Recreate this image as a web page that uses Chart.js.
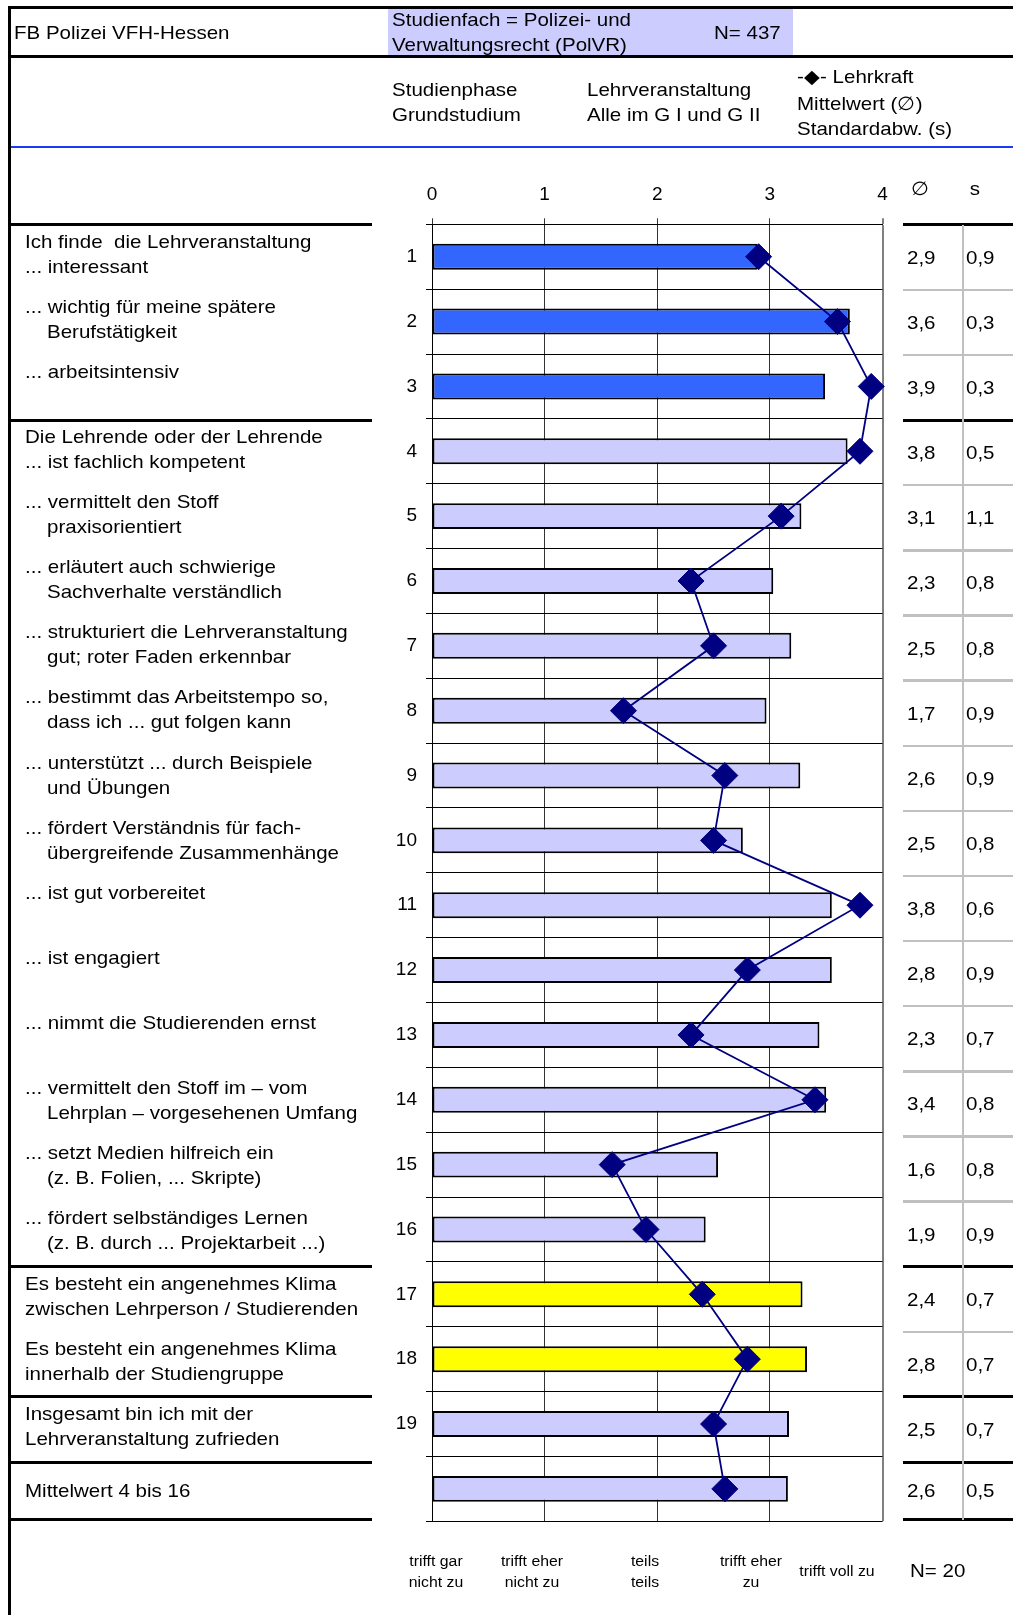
<!DOCTYPE html>
<html lang="de">
<head>
<meta charset="utf-8">
<title>Lehrveranstaltungsbewertung – FB Polizei VFH-Hessen</title>
<script src="https://cdn.jsdelivr.net/npm/chart.js@4.4.1/dist/chart.umd.min.js"></script>
<style>
  html, body { margin: 0; padding: 0; background: #fff; }
  body {
    width: 1013px; height: 1615px; position: relative; overflow: hidden;
    font-family: "Liberation Sans", Arial, Helvetica, sans-serif; color: #000;
  }
  #chart { position: absolute; left: 0; top: 0; }
  .txt { position: absolute; white-space: pre; }
  .rule { position: absolute; }
</style>
</head>
<body>
<canvas id="chart" width="1013" height="1615"></canvas>
<div id="sheet"></div>
<script>
// row numbers on the category axis (last row = average of 4..16, unnumbered)
const rowNumbers = ['1', '2', '3', '4', '5', '6', '7', '8', '9', '10',
                    '11', '12', '13', '14', '15', '16', '17', '18', '19', ''];

// bars: all courses in G I / G II
const courseMeans = [2.89, 3.71, 3.49, 3.69, 3.28, 3.03, 3.19, 2.97, 3.27, 2.76,
                     3.55, 3.55, 3.44, 3.50, 2.54, 2.43, 3.29, 3.33, 3.17, 3.16];

// diamonds: this teacher (mean and standard deviation)
const teacherMeans = [2.9, 3.6, 3.9, 3.8, 3.1, 2.3, 2.5, 1.7, 2.6, 2.5,
                      3.8, 2.8, 2.3, 3.4, 1.6, 1.9, 2.4, 2.8, 2.5, 2.6];
const teacherSd = [0.9, 0.3, 0.3, 0.5, 1.1, 0.8, 0.8, 0.9, 0.9, 0.8,
                   0.6, 0.9, 0.7, 0.8, 0.8, 0.9, 0.7, 0.7, 0.7, 0.5];

// which question block each row belongs to
const rowGroups = ['course', 'course', 'course',
                   'teacher', 'teacher', 'teacher', 'teacher', 'teacher', 'teacher', 'teacher',
                   'teacher', 'teacher', 'teacher', 'teacher', 'teacher', 'teacher',
                   'climate', 'climate', 'overall', 'average'];

const xTickValues = [0, 1, 2, 3, 4];
const scaleLabels = ['trifft gar\nnicht zu', 'trifft eher\nnicht zu', 'teils\nteils', 'trifft eher\nzu', 'trifft voll zu'];

const itemTexts = [
  ['Ich finde  die Lehrveranstaltung', '... interessant'],
  ['... wichtig für meine spätere', 'Berufstätigkeit'],
  ['... arbeitsintensiv'],
  ['Die Lehrende oder der Lehrende', '... ist fachlich kompetent'],
  ['... vermittelt den Stoff', 'praxisorientiert'],
  ['... erläutert auch schwierige', 'Sachverhalte verständlich'],
  ['... strukturiert die Lehrveranstaltung', 'gut; roter Faden erkennbar'],
  ['... bestimmt das Arbeitstempo so,', 'dass ich ... gut folgen kann'],
  ['... unterstützt ... durch Beispiele', 'und Übungen'],
  ['... fördert Verständnis für fach-', 'übergreifende Zusammenhänge'],
  ['... ist gut vorbereitet'],
  ['... ist engagiert'],
  ['... nimmt die Studierenden ernst'],
  ['... vermittelt den Stoff im – vom', 'Lehrplan – vorgesehenen Umfang'],
  ['... setzt Medien hilfreich ein', '(z. B. Folien, ... Skripte)'],
  ['... fördert selbständiges Lernen', '(z. B. durch ... Projektarbeit ...)'],
  ['Es besteht ein angenehmes Klima', 'zwischen Lehrperson / Studierenden'],
  ['Es besteht ein angenehmes Klima', 'innerhalb der Studiengruppe'],
  ['Insgesamt bin ich mit der', 'Lehrveranstaltung zufrieden'],
  ['Mittelwert 4 bis 16']
];

const FONT = '"Liberation Sans", Arial, Helvetica, sans-serif';
const groupFill = { course: '#3366ff', teacher: '#ccccff', climate: '#ffff00', overall: '#ccccff', average: '#ccccff' };

// ---------- chart ----------
Chart.defaults.font.family = FONT;
Chart.defaults.color = '#000';

const ctx = document.getElementById('chart').getContext('2d');
new Chart(ctx, {
  type: 'bar',
  data: {
    labels: rowNumbers,
    datasets: [
      {
        type: 'line',
        indexAxis: 'y',
        label: 'Lehrkraft',
        data: teacherMeans,
        order: 0,
        borderColor: '#000080',
        borderWidth: 1.8,
        tension: 0,
        pointStyle: 'rectRot',
        pointRadius: 13,
        pointBackgroundColor: '#000080',
        pointBorderColor: '#000080',
        pointBorderWidth: 1,
        clip: false
      },
      {
        type: 'bar',
        indexAxis: 'y',
        label: 'Alle im G I und G II',
        data: courseMeans,
        order: 1,
        backgroundColor: rowGroups.map(g => groupFill[g]),
        borderColor: '#000',
        borderWidth: 2,
        borderSkipped: false,
        categoryPercentage: 0.4,
        barPercentage: 1
      }
    ]
  },
  options: {
    responsive: false,
    animation: false,
    indexAxis: 'y',
    layout: { padding: { left: 372, right: 130.5, top: 184.3, bottom: 93.7 } },
    plugins: { legend: { display: false }, tooltip: { enabled: false } },
    scales: {
      x: {
        type: 'linear',
        position: 'top',
        min: xTickValues[0],
        max: xTickValues[xTickValues.length - 1],
        afterBuildTicks: scale => { scale.ticks = xTickValues.map(v => ({ value: v })); },
        ticks: { color: '#000', font: { size: 19 }, padding: 12 },
        grid: {
          tickLength: 6,
          color: c => c.index === xTickValues.length - 1 ? '#808080' : '#333',
          lineWidth: c => c.index === xTickValues.length - 1 ? 2 : 1
        },
        border: { color: '#000', width: 1 },
        afterFit: scale => { scale.height = 40; }
      },
      y: {
        type: 'category',
        position: 'left',
        offset: true,
        ticks: { color: '#000', font: { size: 19 }, padding: 9, autoSkip: false },
        grid: { offset: true, color: '#000', lineWidth: 1, tickLength: 6 },
        border: { color: '#000', width: 1 },
        afterFit: scale => { scale.width = 60; }
      }
    }
  }
});

// ---------- surrounding sheet ----------
const sheet = document.getElementById('sheet');

function rule(x, y, w, h, color) {
  const el = document.createElement('div');
  el.className = 'rule';
  Object.assign(el.style, { left: x + 'px', top: y + 'px', width: w + 'px', height: h + 'px', background: color });
  sheet.appendChild(el);
}

function text(str, x, cy, opts = {}) {
  const size = opts.size || 19;
  const lh = opts.lineHeight || 25;
  const sx = opts.stretch || 1.08;
  const el = document.createElement('div');
  el.className = 'txt';
  el.textContent = str;
  el.style.fontSize = size + 'px';
  el.style.lineHeight = lh + 'px';
  el.style.left = x + 'px';
  el.style.top = (cy - lh / 2) + 'px';
  if (opts.align === 'center') {
    el.style.textAlign = 'center';
    el.style.transformOrigin = 'center top';
    el.style.transform = `translateX(-50%) scaleX(${sx})`;
  } else {
    el.style.transformOrigin = 'left top';
    el.style.transform = `scaleX(${sx})`;
  }
  sheet.appendChild(el);
}

// header frame
rule(388, 9, 405, 46.5, '#ccccff');
rule(8, 5.5, 1005, 3, '#000');
rule(8, 55, 1005, 3, '#000');
rule(10, 146, 1003, 2, '#1a3cf0');
rule(8, 5.5, 3, 1610, '#000');

text('FB Polizei VFH-Hessen', 13.5, 32);
text('Studienfach = Polizei- und', 392, 19.6);
text('Verwaltungsrecht (PolVR)', 392, 44.3);
text('N= 437', 713.5, 32);
text('Studienphase', 392, 89.6);
text('Grundstudium', 392, 114.3);
text('Lehrveranstaltung', 587, 89.6);
text('Alle im G I und G II', 587, 114.3);
text('-◆- Lehrkraft', 797, 76.2);
text('Mittelwert (∅)', 797, 103);
text('Standardabw. (s)', 797, 128.7);

// table rows: labels left, mean / sd right
const tableTop = 224.8;
const rowStep = 65.12;
const lastRowBottom = 1519.7;
const rowTop = i => tableTop + i * rowStep;
const rowBottom = i => (i === itemTexts.length - 1 ? lastRowBottom : rowTop(i + 1));
const fmt = v => v.toFixed(1).replace('.', ',');

text('∅', 920, 188, { align: 'center' });
text('s', 975, 188, { align: 'center' });

itemTexts.forEach((lines, i) => {
  const top = rowTop(i);
  const indent = lines[0].startsWith('...') ? 22.8 : 0;
  if (lines.length === 1 && i === itemTexts.length - 1) {
    text(lines[0], 24.5, (top + rowBottom(i)) / 2);
  } else {
    lines.forEach((line, k) => {
      text(line, 24.5 + (k > 0 ? indent : 0), top + 16.3 + k * 25);
    });
  }
  const cy = (top + rowBottom(i)) / 2;
  text(fmt(teacherMeans[i]), 907, cy);
  text(fmt(teacherSd[i]), 965.5, cy);
});

// horizontal rules: heavy between question blocks, light grey inside a block on the right
rule(8, tableTop - 1.5, 364, 3, '#000');
rule(903, tableTop - 1.5, 110, 3, '#000');
for (let i = 0; i < rowGroups.length; i++) {
  const y = rowBottom(i);
  const blockEnd = i === rowGroups.length - 1 || rowGroups[i] !== rowGroups[i + 1];
  if (blockEnd) {
    rule(8, y - 1.5, 364, 3, '#000');
    rule(903, y - 1.5, 110, 3, '#000');
  } else {
    rule(903, y - 1.2, 110, 2.4, '#c0c0c0');
  }
}
rule(962, tableTop, 2.4, lastRowBottom - tableTop, '#c0c0c0');

// verbal scale under the chart
const scaleCenters = [435.5, 532, 645, 750.5, 836.5];
scaleLabels.forEach((lbl, i) => {
  const lines = lbl.split('\n');
  if (lines.length === 1) {
    text(lbl, scaleCenters[i], 1570.5, { size: 15.5, lineHeight: 21, stretch: 1.02, align: 'center' });
  } else {
    lines.forEach((line, k) => {
      text(line, scaleCenters[i], 1560 + k * 21.3, { size: 15.5, lineHeight: 21, stretch: 1.02, align: 'center' });
    });
  }
});
text('N= 20', 910, 1570);
</script>
</body>
</html>
